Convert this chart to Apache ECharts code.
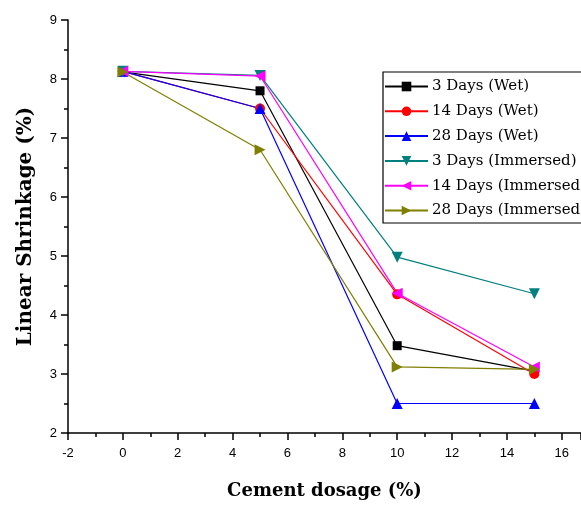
<!DOCTYPE html>
<html><head><meta charset="utf-8">
<script src="https://cdn.jsdelivr.net/npm/echarts@6/dist/echarts.min.js"></script>
<style>html,body{margin:0;padding:0;background:#fff}#c{width:581px;height:505px}</style>
</head><body><div id="c"></div>
<script>
const dosage = [0, 5, 10, 15];
const names = ['3 Days (Wet)', '14 Days (Wet)', '28 Days (Wet)', '3 Days (Immersed)', '14 Days (Immersed)', '28 Days (Immersed)'];
const d3Wet = [8.12, 7.8, 3.48, 3.05];
const d14Wet = [8.13, 7.5, 4.35, 3.0];
const d28Wet = [8.13, 7.5, 2.5, 2.5];
const d3Imm = [8.13, 8.06, 4.98, 4.36];
const d14Imm = [8.13, 8.05, 4.37, 3.12];
const d28Imm = [8.12, 6.8, 3.12, 3.08];
const colors = ['#000000', '#ff0000', '#0000ff', '#007f7f', '#ff00ff', '#7f7f00'];
const symbols = ['rect', 'circle', 'triangle', 'path://M0,0 L10,0 L5,10 Z', 'path://M0,5 L10,0 L10,10 Z', 'path://M0,0 L10,5 L0,10 Z'];
const sizes = [9, 10, 11, 11, 11, 11];
const allData = [d3Wet, d14Wet, d28Wet, d3Imm, d14Imm, d28Imm];

const chart = echarts.init(document.getElementById('c'));
chart.setOption({
  animation: false,
  grid: {left: 68, top: 20, right: 0, bottom: 72, containLabel: false},
  legend: {
    orient: 'vertical', left: 383, top: 72,
    itemWidth: 43, itemHeight: 12, itemGap: 9.8,
    padding: [7, 12, 5, 1],
    borderColor: '#000', borderWidth: 1.2,
    textStyle: {fontFamily: 'DejaVu Serif', fontSize: 15, color: '#000', padding: [0, 0, 0, -1]},
    data: names
  },
  xAxis: {
    type: 'value', min: -2, max: 16.7, interval: 2,
    name: 'Cement dosage (%)', nameLocation: 'middle', nameGap: 49,
    nameTextStyle: {fontFamily: 'DejaVu Serif', fontWeight: 'bold', fontSize: 18, color: '#000'},
    axisLine: {show: true, onZero: false, lineStyle: {color: '#000', width: 1.5}},
    axisTick: {show: true, inside: false, length: 7, lineStyle: {color: '#000', width: 1.5}},
    minorTick: {show: true, splitNumber: 2, length: 4, lineStyle: {color: '#000', width: 1.5}},
    axisLabel: {fontFamily: 'Liberation Sans', fontSize: 13, color: '#000', margin: 14, showMaxLabel: false},
    splitLine: {show: false}
  },
  yAxis: {
    type: 'value', min: 2, max: 9, interval: 1,
    name: 'Linear Shrinkage (%)', nameLocation: 'middle', nameGap: 32,
    nameTextStyle: {fontFamily: 'DejaVu Serif', fontWeight: 'bold', fontSize: 20, color: '#000'},
    axisLine: {show: true, onZero: false, lineStyle: {color: '#000', width: 1.5}},
    axisTick: {show: true, inside: false, length: 7, lineStyle: {color: '#000', width: 1.5}},
    minorTick: {show: true, splitNumber: 2, length: 4, lineStyle: {color: '#000', width: 1.5}},
    axisLabel: {fontFamily: 'Liberation Sans', fontSize: 13, color: '#000', margin: 11},
    splitLine: {show: false}
  },
  series: names.map((n, i) => ({
    name: n, type: 'line',
    data: dosage.map((x, j) => [x, allData[i][j]]),
    symbol: symbols[i], symbolSize: sizes[i],
    lineStyle: {color: colors[i], width: 1.2},
    itemStyle: {color: colors[i], borderWidth: 0},
    emphasis: {disabled: true}
  }))
});
</script></body></html>
